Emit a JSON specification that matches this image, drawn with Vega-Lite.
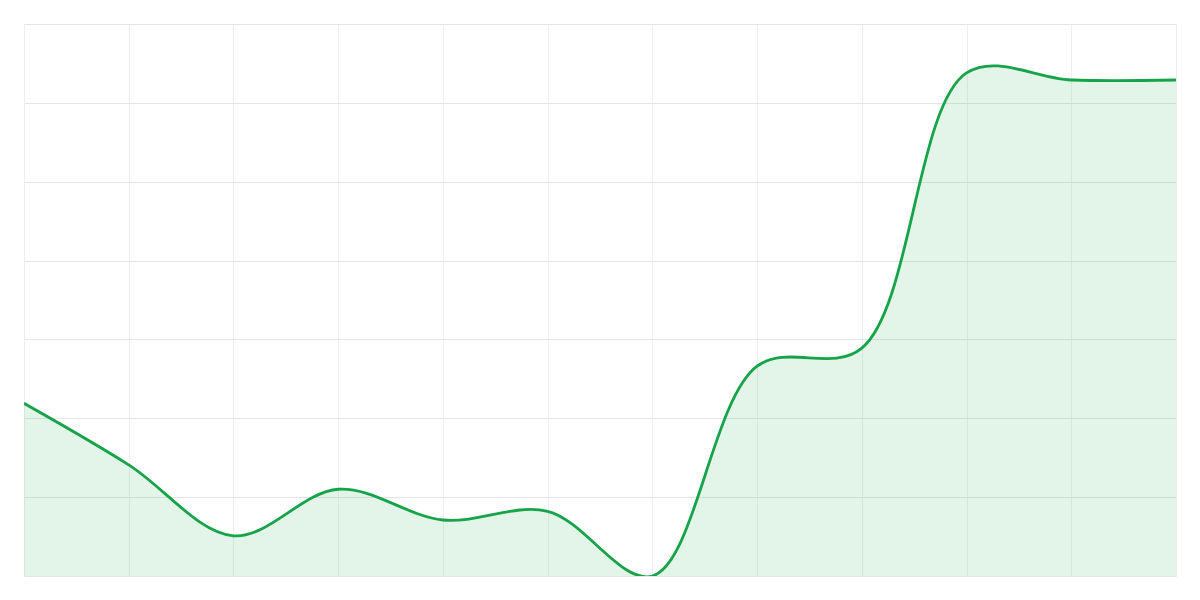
{
  "$schema": "https://vega.github.io/schema/vega-lite/v6.json",
  "width": 1152,
  "height": 552,
  "padding": 24,
  "autosize": {"type": "none"},
  "background": "white",
  "data": {
    "values": [
      {"step": 0, "value": 2.19},
      {"step": 1, "value": 1.41},
      {"step": 2, "value": 0.51},
      {"step": 3, "value": 1.1},
      {"step": 4, "value": 0.71},
      {"step": 5, "value": 0.82},
      {"step": 6, "value": 0.0},
      {"step": 7, "value": 2.66},
      {"step": 8, "value": 2.89},
      {"step": 9, "value": 6.38},
      {"step": 10, "value": 6.29},
      {"step": 11, "value": 6.29}
    ]
  },
  "mark": {
    "type": "area",
    "interpolate": "catmull-rom",
    "clip": true,
    "color": "#16a34a",
    "fillOpacity": 0.12,
    "line": {"stroke": "#16a34a", "strokeWidth": 2.8}
  },
  "encoding": {
    "x": {
      "field": "step",
      "type": "quantitative",
      "scale": {"domain": [0, 11], "nice": false, "zero": false},
      "axis": {
        "values": [0, 1, 2, 3, 4, 5, 6, 7, 8, 9, 10, 11],
        "labels": false,
        "ticks": false,
        "domain": false,
        "title": null,
        "gridColor": "#efefef"
      }
    },
    "y": {
      "field": "value",
      "type": "quantitative",
      "scale": {"domain": [0, 7], "nice": false},
      "axis": {
        "values": [0, 1, 2, 3, 4, 5, 6, 7],
        "labels": false,
        "ticks": false,
        "domain": false,
        "title": null,
        "gridColor": "#e5e5e5"
      }
    }
  },
  "config": {
    "view": {"stroke": null}
  }
}
